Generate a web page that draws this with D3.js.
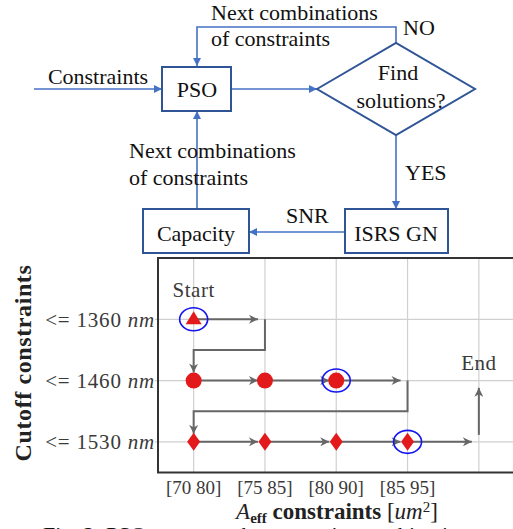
<!DOCTYPE html>
<html><head><meta charset="utf-8">
<script src="https://cdn.jsdelivr.net/npm/d3@7"></script>
<style>html,body{margin:0;padding:0;background:#fff;overflow:hidden}
text{font-family:"Liberation Serif","DejaVu Serif",serif}</style>
</head><body>
<script>
// ---------- data ----------
const cutoffLevels = ["<= 1360", "<= 1460", "<= 1530"];
const aeffLevels = ["[70 80]", "[75 85]", "[80 90]", "[85 95]"];
const trianglePoints = [[0, 0]];                 // [aeff index, cutoff index]
const circlePoints = [[0, 1], [1, 1], [2, 1]];
const diamondPoints = [[0, 2], [1, 2], [2, 2], [3, 2]];
const solutionPoints = [[0, 0], [2, 1], [3, 2]];
// horizontal traverse steps: [from aeff idx, to aeff idx, cutoff idx]
const traverseSteps = [[0,1,0],[0,1,1],[1,2,1],[2,3,1],[0,1,2],[1,2,2],[2,3,2],[3,4,2]];
// row change connectors: [aeff idx of turn, from cutoff idx]
const rowChanges = [[1, 0], [3, 1]];
const endColumn = 4;

(function () {
const W = 513, H = 529;
const FONT = "Liberation Serif";
const svg = d3.select("body").append("svg").attr("width", W).attr("height", H)
  .attr("font-family", FONT);

const defs = svg.append("defs");
defs.append("marker").attr("id", "bArrow").attr("viewBox", "0 0 10 10")
  .attr("refX", 10).attr("refY", 5).attr("markerWidth", 9).attr("markerHeight", 8)
  .attr("markerUnits", "userSpaceOnUse").attr("orient", "auto")
  .append("path").attr("d", "M0,0 L10,5 L0,10 Z").attr("fill", "#4472C4");
defs.append("marker").attr("id", "gArrow").attr("viewBox", "0 0 10 10")
  .attr("refX", 10).attr("refY", 5).attr("markerWidth", 11).attr("markerHeight", 9)
  .attr("markerUnits", "userSpaceOnUse").attr("orient", "auto")
  .append("path").attr("d", "M0,0 L10,5 L0,10 L3,5 Z").attr("fill", "#666");

// ---------- flowchart ----------
const fc = svg.append("g");
const boxC = "#2F5597", lineC = "#4472C4";
function box(x, y, w, h) {
  fc.append("rect").attr("x", x).attr("y", y).attr("width", w).attr("height", h)
    .attr("fill", "#fff").attr("stroke", boxC).attr("stroke-width", 2);
}
function txt(x, y, s, anchor) {
  fc.append("text").attr("x", x).attr("y", y).attr("dy", "0.35em").attr("font-family", FONT)
    .attr("text-anchor", anchor || "middle").attr("font-size", 22).attr("fill", "#111").text(s);
}
function arrowLine(pts) {
  fc.append("path").attr("d", d3.line()(pts)).attr("fill", "none")
    .attr("stroke", lineC).attr("stroke-width", 1.6).attr("marker-end", "url(#bArrow)");
}
arrowLine([[34, 89], [162, 89]]);
arrowLine([[231, 89], [317, 89]]);
arrowLine([[396, 43], [396, 27], [197, 27], [197, 66]]);
arrowLine([[396, 135], [396, 209]]);
arrowLine([[345, 232], [249, 232]]);
arrowLine([[197, 209], [197, 111]]);

box(162, 67, 69, 44);
box(143, 209, 106, 44);
box(345, 209, 103, 44);
fc.append("path").attr("d", "M317,89 L396,43 L475,89 L396,135 Z")
  .attr("fill", "#fff").attr("stroke", boxC).attr("stroke-width", 2);

txt(197, 89, "PSO");
txt(196, 233, "Capacity");
txt(396, 233, "ISRS GN");
txt(98, 76, "Constraints");
txt(398, 72, "Find");
txt(401, 100, "solutions?");
txt(211, 12, "Next combinations", "start");
txt(211, 38, "of constraints", "start");
txt(403, 27, "NO", "start");
txt(405, 172, "YES", "start");
txt(286, 215, "SNR", "start");
txt(129, 150, "Next combinations", "start");
txt(129, 177, "of constraints", "start");

// ---------- chart ----------
const pLeft = 158, pTop = 258, pBottom = 472.5;
const x = d3.scaleLinear().domain([-0.5, 4.5]).range([pLeft, pLeft + 5 * 71.3]);
const y = d3.scaleLinear().domain([-1, 2.5]).range([pTop, pBottom]);
const ch = svg.append("g");
const gridC = "#d0d0d0";
d3.range(0, 5).forEach(i => ch.append("line").attr("x1", x(i)).attr("x2", x(i))
  .attr("y1", pTop).attr("y2", pBottom).attr("stroke", gridC).attr("stroke-width", 1.2));
cutoffLevels.forEach((d, i) => ch.append("line").attr("x1", pLeft - 3).attr("x2", W)
  .attr("y1", y(i)).attr("y2", y(i)).attr("stroke", gridC).attr("stroke-width", 1.2));
ch.append("path").attr("d", `M${W + 5},${pTop} L${pLeft},${pTop} L${pLeft},${pBottom} L${W + 5},${pBottom}`)
  .attr("fill", "none").attr("stroke", "#333").attr("stroke-width", 2);

const gray = "#666";
traverseSteps.forEach(([a, b, r]) => ch.append("path")
  .attr("d", d3.line()([[x(a), y(r)], [x(b) - 7, y(r)]]))
  .attr("stroke", gray).attr("stroke-width", 2).attr("fill", "none").attr("marker-end", "url(#gArrow)"));
rowChanges.forEach(([c, r]) => ch.append("path")
  .attr("d", d3.line()([[x(c), y(r)], [x(c), y(r + 0.5)], [x(0), y(r + 0.5)], [x(0), y(r + 1) - 8]]))
  .attr("stroke", gray).attr("stroke-width", 2).attr("fill", "none").attr("marker-end", "url(#gArrow)"));
ch.append("path").attr("d", d3.line()([[x(endColumn), y(2) - 7], [x(endColumn), y(2) - 54]]))
  .attr("stroke", gray).attr("stroke-width", 2).attr("fill", "none").attr("marker-end", "url(#gArrow)");

const red = "#E31A1C";
ch.selectAll(".tri").data(trianglePoints).join("path")
  .attr("d", d => `M${x(d[0])},${y(d[1]) - 8} L${x(d[0]) + 8},${y(d[1]) + 5} L${x(d[0]) - 8},${y(d[1]) + 5} Z`)
  .attr("fill", red);
ch.selectAll(".cir").data(circlePoints).join("circle")
  .attr("cx", d => x(d[0])).attr("cy", d => y(d[1])).attr("r", 8).attr("fill", red);
ch.selectAll(".dia").data(diamondPoints).join("path")
  .attr("d", d => `M${x(d[0])},${y(d[1]) - 9} L${x(d[0]) + 6.5},${y(d[1])} L${x(d[0])},${y(d[1]) + 9} L${x(d[0]) - 6.5},${y(d[1])} Z`)
  .attr("fill", red);
ch.selectAll(".sol").data(solutionPoints).join("ellipse")
  .attr("cx", d => x(d[0])).attr("cy", d => y(d[1])).attr("rx", 14).attr("ry", 11.5)
  .attr("fill", "none").attr("stroke", "#1414F0").attr("stroke-width", 1.6);

const tc = "#3a3a3a";
ch.append("text").attr("x", x(0)).attr("y", 290).attr("dy", "0.35em").attr("text-anchor", "middle")
  .attr("font-size", 21).attr("letter-spacing", 0.5).attr("fill", tc).text("Start");
ch.append("text").attr("x", x(endColumn)).attr("y", 363).attr("dy", "0.35em").attr("text-anchor", "middle")
  .attr("font-size", 21).attr("letter-spacing", 0.5).attr("fill", tc).text("End");

cutoffLevels.forEach((d, i) => {
  const t = ch.append("text").attr("x", 155).attr("y", y(i)).attr("dy", "0.35em")
    .attr("text-anchor", "end").attr("font-size", 21).attr("letter-spacing", 0.8).attr("fill", tc);
  t.append("tspan").text(d + " ");
  t.append("tspan").attr("font-style", "italic").text("nm");
});
aeffLevels.forEach((d, i) => ch.append("text").attr("x", x(i)).attr("y", 487).attr("dy", "0.35em")
  .attr("text-anchor", "middle").attr("font-size", 19).attr("fill", tc).text(d));

ch.append("text").attr("transform", "translate(23,363) rotate(-90)").attr("dy", "0.35em")
  .attr("text-anchor", "middle").attr("font-size", 24).attr("font-weight", "bold")
  .attr("letter-spacing", 0.6).attr("fill", "#222").text("Cutoff constraints");

const xt = ch.append("text").attr("x", 337).attr("y", 511).attr("dy", "0.35em")
  .attr("text-anchor", "middle").attr("font-size", 23).attr("fill", "#222");
xt.append("tspan").attr("font-style", "italic").text("A");
xt.append("tspan").attr("font-size", 15).attr("font-weight", "bold").attr("dy", 4).text("eff");
xt.append("tspan").attr("font-weight", "bold").attr("dy", -4).text(" constraints ");
xt.append("tspan").text("[");
xt.append("tspan").attr("font-style", "italic").text("um");
xt.append("tspan").attr("font-size", 15).attr("dy", -7).text("2");
xt.append("tspan").attr("dy", 7).text("]");

svg.append("text").attr("x", 43).attr("y", 542).attr("font-size", 22).attr("fill", "#111")
  .text("Fig. 2: PSO traverses the constraint combinations.");
})();
</script>
</body></html>
